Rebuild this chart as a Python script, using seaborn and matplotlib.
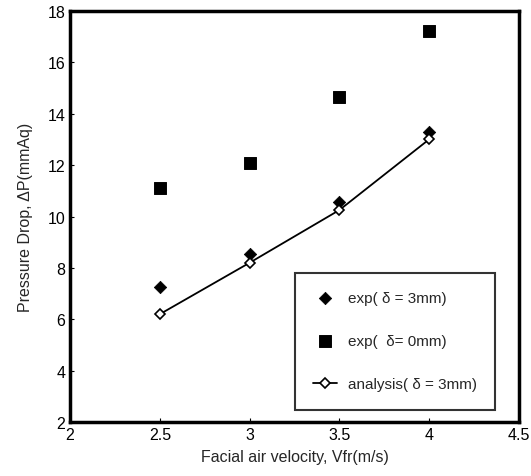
import matplotlib
matplotlib.use("Agg")
import matplotlib.pyplot as plt
import seaborn as sns
import pandas as pd

# values
velocity = [2.5, 3.0, 3.5, 4.0]
exp_gap3 = [7.25, 8.55, 10.55, 13.3]
exp_gap0 = [11.1, 12.1, 14.65, 17.2]
analysis_gap3 = [6.2, 8.2, 10.25, 13.0]

x_ticks = [2, 2.5, 3, 3.5, 4, 4.5]
x_tick_labels = ["2", "2.5", "3", "3.5", "4", "4.5"]
y_ticks = [2, 4, 6, 8, 10, 12, 14, 16, 18]

sns.set_style("ticks")
plt.rcParams['font.family'] = ['Liberation Sans', 'DejaVu Sans']

df = pd.DataFrame({
    "v": velocity,
    "exp3": exp_gap3,
    "exp0": exp_gap0,
    "ana3": analysis_gap3,
})

fig = plt.figure(figsize=(5.31, 4.77), dpi=100)
ax = fig.add_axes([0.132, 0.113, 0.845, 0.862])

sns.scatterplot(data=df, x="v", y="exp3", marker="D", s=40, color="black",
                edgecolor="black", label="exp( δ = 3mm)", ax=ax)
sns.scatterplot(data=df, x="v", y="exp0", marker="s", s=70, color="black",
                edgecolor="black", label="exp(  δ= 0mm)", ax=ax)
sns.lineplot(data=df, x="v", y="ana3", marker="D", markersize=5, color="black",
             markerfacecolor="white", markeredgecolor="black", markeredgewidth=1.2,
             linewidth=1.3, label="analysis( δ = 3mm)", ax=ax)

ax.set_xlim(2, 4.5)
ax.set_ylim(2, 18)
ax.set_xticks(x_ticks)
ax.set_xticklabels(x_tick_labels)
ax.set_yticks(y_ticks)
ax.tick_params(direction="in", length=3, labelsize=11.5, colors="black")

for sp in ax.spines.values():
    sp.set_linewidth(2.5)
    sp.set_color("black")

ax.set_xlabel("Facial air velocity, Vfr(m/s)", fontsize=11.5, labelpad=5)
ax.set_ylabel("Pressure Drop, ΔP(mmAq)", fontsize=11.5, labelpad=10)

leg = ax.legend(loc="lower right", bbox_to_anchor=(0.965, 0.012), fontsize=11,
                frameon=True, fancybox=False, shadow=False, labelspacing=1.9,
                borderpad=1.2, handlelength=1.6, handletextpad=0.7,
                edgecolor="black")
leg.get_frame().set_linewidth(1.5)

fig.savefig("out.png", dpi=100)
